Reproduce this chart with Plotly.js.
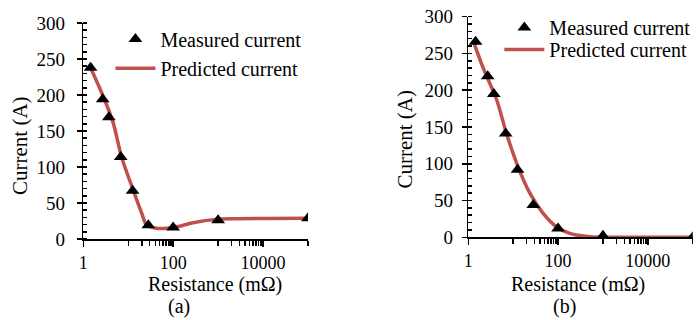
<!DOCTYPE html>
<html>
<head>
<meta charset="utf-8">
<script src="https://cdn.plot.ly/plotly-3.0.1.min.js"></script>
<style>html,body{margin:0;padding:0;background:#fff;}#chart{width:699px;height:320px;}</style>
</head>
<body>
<div id="chart"></div>
<script>
// Resistance values (mΩ) of the measured points
const resistance = [1.45, 2.7, 3.7, 6.8, 12.5, 28, 100, 1000, 100000];
// (a) measured current (A)
const measuredA = [238, 194, 169, 114, 67, 19, 16, 26, 29];
// (b) measured current (A)
const measuredB = [266, 219, 195, 141, 92, 44, 12, 2, 0];
// (a) predicted curve
const predRA = [1.4, 2.78, 4.64, 7.1, 12.9, 19.9, 25.7, 42.7, 71, 120, 278, 920, 2150, 100000];
const predIA = [240, 198, 161, 114, 68, 36, 19.4, 15, 15, 17, 22.6, 27.3, 28.2, 28.8];
// (b) predicted curve
const predRB = [1.34, 2.15, 4.28, 7.1, 11.9, 23.5, 46, 92, 182, 505, 2000, 100000];
const predIB = [264, 230, 187, 141, 101, 60, 33, 14.4, 5.4, 0.8, 0, 0];
// tick labels
const xTickVals = [1, 100, 10000];
const xTickText = ['1', '100', '10000'];
const xMinorVals = [10, 20, 30, 40, 50, 60, 70, 80, 90, 1000, 2000, 3000, 4000, 5000, 6000, 7000, 8000, 9000, 100000];
const yTickVals = [0, 50, 100, 150, 200, 250, 300];

const FONT = '"Liberation Serif", "Times New Roman", serif';
const RED = '#C0504D';

const traces = [
  {x: predRA, y: predIA, type: 'scatter', mode: 'lines', name: 'Predicted current',
   line: {color: RED, width: 3.5, shape: 'spline', smoothing: 0.8}, xaxis: 'x', yaxis: 'y', legend: 'legend2'},
  {x: resistance, y: measuredA, type: 'scatter', mode: 'markers', name: 'Measured current',
   marker: {symbol: 'triangle-up', size: 12, color: '#000'}, xaxis: 'x', yaxis: 'y', legend: 'legend'},
  {x: predRB, y: predIB, type: 'scatter', mode: 'lines', name: 'Predicted current',
   line: {color: RED, width: 3.5, shape: 'spline', smoothing: 0.8}, xaxis: 'x2', yaxis: 'y2', legend: 'legend4'},
  {x: resistance, y: measuredB, type: 'scatter', mode: 'markers', name: 'Measured current',
   marker: {symbol: 'triangle-up', size: 12, color: '#000'}, xaxis: 'x2', yaxis: 'y2', legend: 'legend3'}
];

function xAxis(domain, anchor) {
  return {
    type: 'log', range: [0, 5], domain: domain, anchor: anchor,
    showgrid: false, zeroline: false, showline: true, linecolor: '#000', linewidth: 1.5,
    tickmode: 'array', tickvals: xTickVals, ticktext: xTickText,
    ticks: 'outside', ticklen: 6, tickwidth: 1.5, tickcolor: '#000',
    minor: {tickmode: 'array', tickvals: xMinorVals, ticks: 'outside', ticklen: 5, tickwidth: 1.5, tickcolor: '#000', showgrid: false},
    tickfont: {family: FONT, size: 18, color: '#000'}, ticklabelstandoff: 1
  };
}
function yAxis(domain, anchor, standoff) {
  return {
    range: [0, 300], domain: domain, anchor: anchor,
    showgrid: false, zeroline: false, showline: true, linecolor: '#000', linewidth: 1.5,
    tickmode: 'array', tickvals: yTickVals,
    ticks: 'outside', ticklen: 5, tickwidth: 1.5, tickcolor: '#000',
    minor: {dtick: 10, ticks: 'inside', ticklen: 4, tickwidth: 1.5, tickcolor: '#000', showgrid: false},
    tickfont: {family: FONT, size: 19, color: '#000'}, ticklabelstandoff: standoff
  };
}
function leg(x, y) {
  return {x: x, y: y, xanchor: 'left', yanchor: 'top', bgcolor: 'rgba(0,0,0,0)',
          font: {family: FONT, size: 20, color: '#000'}, itemwidth: 40};
}

const layout = {
  width: 699, height: 320,
  margin: {l: 0, r: 0, t: 0, b: 0},
  font: {family: FONT, color: '#000'},
  paper_bgcolor: '#fff', plot_bgcolor: '#fff',
  showlegend: true,
  xaxis: xAxis([0.1192, 0.4406], 'y'),
  yaxis: yAxis([0.253, 0.928], 'x', 8),
  xaxis2: xAxis([0.670, 0.991], 'y2'),
  yaxis2: yAxis([0.2584, 0.948], 'x2', 5),
  legend: leg(0.158, 0.939),
  legend2: leg(0.158, 0.848),
  legend3: leg(0.7144, 0.975),
  legend4: leg(0.7144, 0.906),
  annotations: [
    {text: 'Resistance (mΩ)', xref: 'paper', yref: 'paper', x: 0.3069, y: 0.112, showarrow: false,
     xanchor: 'center', yanchor: 'middle', font: {family: FONT, size: 20, color: '#000'}},
    {text: 'Resistance (mΩ)', xref: 'paper', yref: 'paper', x: 0.8269, y: 0.112, showarrow: false,
     xanchor: 'center', yanchor: 'middle', font: {family: FONT, size: 20, color: '#000'}},
    {text: 'Current (A)', xref: 'paper', yref: 'paper', x: 0.0286, y: 0.547, showarrow: false, textangle: -90,
     xanchor: 'center', yanchor: 'middle', font: {family: FONT, size: 21, color: '#000'}},
    {text: 'Current (A)', xref: 'paper', yref: 'paper', x: 0.579, y: 0.566, showarrow: false, textangle: -90,
     xanchor: 'center', yanchor: 'middle', font: {family: FONT, size: 21, color: '#000'}},
    {text: '(a)', xref: 'paper', yref: 'paper', x: 0.256, y: 0.042, showarrow: false,
     xanchor: 'center', yanchor: 'middle', font: {family: FONT, size: 20, color: '#000'}},
    {text: '(b)', xref: 'paper', yref: 'paper', x: 0.808, y: 0.042, showarrow: false,
     xanchor: 'center', yanchor: 'middle', font: {family: FONT, size: 20, color: '#000'}}
  ]
};

Plotly.newPlot('chart', traces, layout, {staticPlot: true, displayModeBar: false});
</script>
</body>
</html>
